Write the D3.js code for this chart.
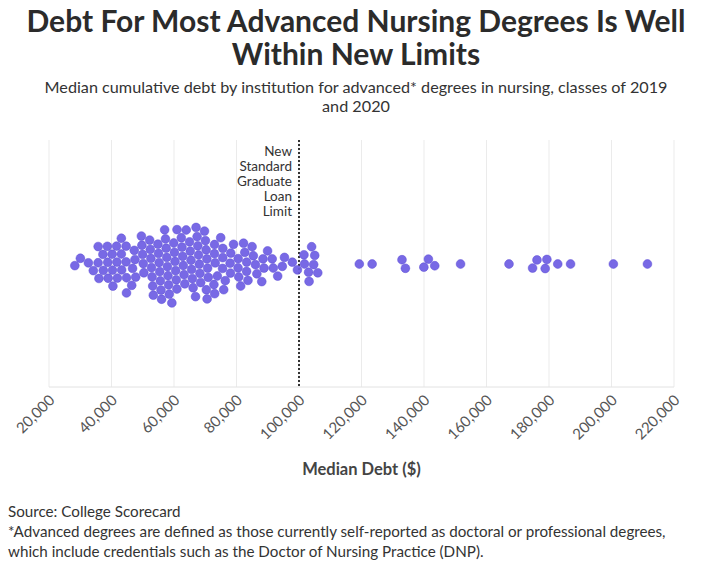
<!DOCTYPE html>
<html>
<head>
<meta charset="utf-8">
<script src="https://cdn.jsdelivr.net/npm/d3@7"></script>
<style>
  body { margin: 0; background: #fff; }
  svg { display: block; }
  text { font-family: Lato, "Noto Sans", sans-serif; }
</style>
</head>
<body>
<svg id="chart" width="712" height="568"></svg>
<script>
// median cumulative debt per institution (USD)
const debtValues = [
  28300, 30200, 32500, 34100, 35700,
  36600, 37000, 37600, 38500, 38700, 38900, 39100,
  40200, 40400, 40700, 41400, 42100,
  42600, 42900, 43400, 43700, 44300, 44600, 45300,
  45900, 46200, 46500, 46700, 47200, 48500,
  49400, 49800, 50700, 51000, 51700, 52000,
  52600, 53200, 53400, 53900, 54500, 54700, 54900, 55100, 55300,
  55500, 55800, 56200, 56500, 56800, 57100, 57400, 57800, 58100, 58300, 58500,
  58700, 59000, 59300, 59500, 59700, 60000, 61000, 61300, 61600,
  61900, 62200, 62600, 63200, 63500, 63800, 64200, 64500, 64800,
  65100, 65400, 66100, 66400, 66700, 67000, 67300, 67500, 68000,
  68300, 68400, 68600, 69000, 69200, 69400, 69900, 70000, 70200, 70800, 71000, 71200,
  71800, 72500, 73100, 73400, 74100, 74400,
  74700, 75400, 75700, 76000, 76600, 77300, 77900,
  78600, 78900, 79400, 79600, 80500,
  81400, 81800, 82100, 82700, 83400, 83700,
  84600, 85000, 85900, 86900,
  87800, 88500, 89100, 90100,
  90700, 91700, 93000,
  94600, 95500,
  97800, 99400,
  101600, 101900, 103200,
  103800, 104200, 104500, 104800, 105400,
  119300, 123400, 133000, 134000, 140000, 141400, 143400, 151700,
  167200, 174800, 176100, 178800, 179300, 182800, 186900, 200600, 211500
]

const xTicks = [20000, 40000, 60000, 80000, 100000, 120000, 140000, 160000, 180000, 200000, 220000]
const loanLimit = 100000
const limitLabel = ['New', 'Standard', 'Graduate', 'Loan', 'Limit']

const titleLines = ['Debt For Most Advanced Nursing Degrees Is Well', 'Within New Limits']
const subtitleLines = ['Median cumulative debt by institution for advanced* degrees in nursing, classes of 2019', 'and 2020']
const footLines = [
  'Source: College Scorecard',
  '*Advanced degrees are defined as those currently self-reported as doctoral or professional degrees,',
  'which include credentials such as the Doctor of Nursing Practice (DNP).'
]

const svg = d3.select('#chart')
const width = +svg.attr('width')

const plot = {left: 49, right: 674, top: 140, bottom: 387}
const r = 4.4

const x = d3.scaleLinear()
  .domain([20000, 220000])
  .range([plot.left, plot.right])

const yMid = (plot.top + plot.bottom) / 2 + 0.5

// title + subtitle
svg.append('g')
  .selectAll('text')
  .data(titleLines)
  .join('text')
  .attr('x', width / 2)
  .attr('y', (d, i) => 32 + i * 33)
  .attr('text-anchor', 'middle')
  .attr('font-size', 30)
  .attr('font-weight', 700)
  .attr('fill', '#2b2b2b')
  .text(d => d)

svg.append('g')
  .selectAll('text')
  .data(subtitleLines)
  .join('text')
  .attr('x', width / 2)
  .attr('y', (d, i) => 93 + i * 19)
  .attr('text-anchor', 'middle')
  .attr('font-size', 16.2)
  .attr('fill', '#333')
  .text(d => d)

// gridlines
const grid = svg.append('g')
grid.selectAll('line')
  .data(xTicks)
  .join('line')
  .attr('x1', d => x(d)).attr('x2', d => x(d))
  .attr('y1', plot.top).attr('y2', plot.bottom)
  .attr('stroke', '#ebebeb')
  .attr('stroke-width', 1)

grid.append('line')
  .attr('x1', plot.left).attr('x2', plot.right)
  .attr('y1', plot.bottom).attr('y2', plot.bottom)
  .attr('stroke', '#e2e2e2')

// x axis
const xAxis = d3.axisBottom(x)
  .tickValues(xTicks)
  .tickFormat(d3.format(','))
  .tickSize(0)

const axisG = svg.append('g')
  .attr('transform', `translate(0,${plot.bottom})`)
  .call(xAxis)

axisG.select('.domain').remove()
axisG.selectAll('text')
  .attr('font-family', 'Lato, sans-serif')
  .attr('font-size', 15)
  .attr('fill', '#555')
  .attr('text-anchor', 'end')
  .attr('dy', 0)
  .attr('transform', 'translate(4,12) rotate(-45)')

svg.append('text')
  .attr('x', (plot.left + plot.right) / 2)
  .attr('y', 475)
  .attr('text-anchor', 'middle')
  .attr('font-size', 16.5)
  .attr('font-weight', 700)
  .attr('fill', '#444')
  .text('Median Debt ($)')

// loan limit line
svg.append('line')
  .attr('x1', x(loanLimit)).attr('x2', x(loanLimit))
  .attr('y1', plot.top).attr('y2', plot.bottom)
  .attr('stroke', '#333')
  .attr('stroke-width', 2)
  .attr('stroke-dasharray', '2,2')

svg.append('g')
  .selectAll('text')
  .data(limitLabel)
  .join('text')
  .attr('x', x(loanLimit) - 7)
  .attr('y', (d, i) => 155.5 + i * 15)
  .attr('text-anchor', 'end')
  .attr('font-family', '"Open Sans", sans-serif')
  .attr('font-size', 13.5)
  .attr('fill', '#333')
  .text(d => d)

// beeswarm
const nodes = debtValues.map(v => ({value: v, x: x(v), y: yMid}))
const sim = d3.forceSimulation(nodes)
  .force('x', d3.forceX(d => x(d.value)).strength(1))
  .force('y', d3.forceY(yMid).strength(0.08))
  .force('collide', d3.forceCollide(r + 0.2).iterations(3))
  .stop()

for (let i = 0; i < 300; i++) sim.tick()

svg.append('g')
  .selectAll('circle')
  .data(nodes)
  .join('circle')
  .attr('cx', d => d.x)
  .attr('cy', d => d.y)
  .attr('r', r)
  .attr('fill', '#6d5ce3')
  .attr('fill-opacity', 0.92)
  .attr('stroke', '#5b4bd4')
  .attr('stroke-width', 0.5)

// footnotes
svg.append('g')
  .selectAll('text')
  .data(footLines)
  .join('text')
  .attr('x', 8)
  .attr('y', (d, i) => 517 + i * 20)
  .attr('font-size', 15.2)
  .attr('fill', '#333')
  .text(d => d)
</script>
</body>
</html>
